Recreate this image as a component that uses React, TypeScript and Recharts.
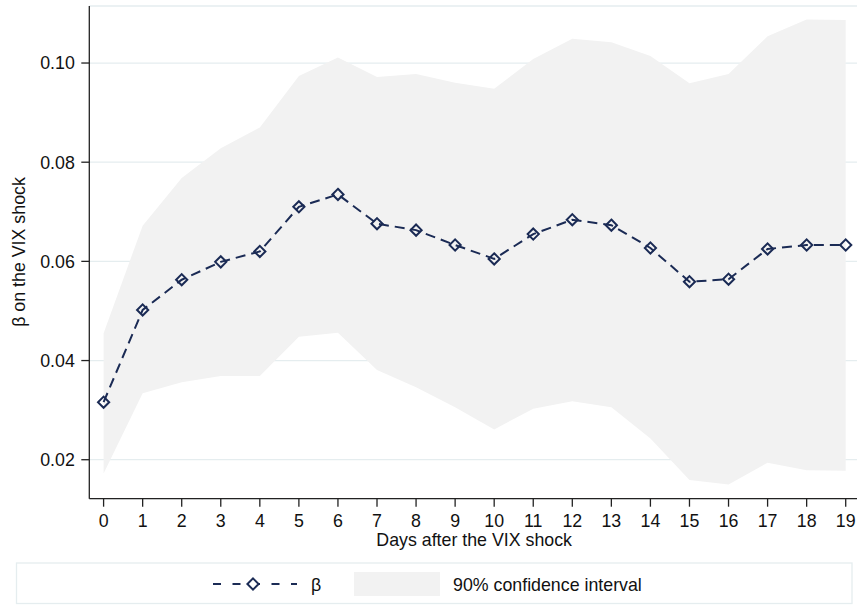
import React from 'react';
import { ComposedChart, Line, Area, XAxis, YAxis, CartesianGrid } from 'recharts';

const FONT = '"Liberation Sans", Arial, Helvetica, sans-serif';

const days = [0, 1, 2, 3, 4, 5, 6, 7, 8, 9, 10, 11, 12, 13, 14, 15, 16, 17, 18, 19];
const beta = [0.0316, 0.0502, 0.0563, 0.0599, 0.0620, 0.0710, 0.0735, 0.0676, 0.0663, 0.0633,
  0.0605, 0.0655, 0.0684, 0.0673, 0.0627, 0.0559, 0.0564, 0.0625, 0.0633, 0.0633];
const ciLow = [0.0172, 0.0334, 0.0356, 0.0369, 0.0369, 0.0448, 0.0456, 0.0381, 0.0346, 0.0306,
  0.0261, 0.0303, 0.0318, 0.0306, 0.0243, 0.0159, 0.0150, 0.0194, 0.0179, 0.0178];
const ciHigh = [0.0455, 0.0672, 0.0768, 0.0828, 0.0870, 0.0974, 0.1011, 0.0972, 0.0978, 0.0960,
  0.0948, 0.1008, 0.1049, 0.1042, 0.1014, 0.0959, 0.0978, 0.1054, 0.1088, 0.1087];
const yTicks = [0.02, 0.04, 0.06, 0.08, 0.1];

const xTitle = 'Days after the VIX shock';
const yTitle = 'β on the VIX shock';
const legendBeta = 'β';
const legendCI = '90% confidence interval';

const data = days.map((d, i) => ({ day: d, beta: beta[i], ci: [ciLow[i], ciHigh[i]] }));

const NAVY = '#1b2b55';
const BAND = '#f2f2f2';
const GRID = '#e5edef';
const TEXT = '#111';
const FS = 17.8;

const Diamond = (props: any) => {
  const { cx, cy, index } = props;
  if (cx == null || cy == null) return <g key={`d${index}`} />;
  const r = 5.6;
  return (
    <path
      key={`d${index}`}
      d={`M${cx} ${cy - r} L${cx + r} ${cy} L${cx} ${cy + r} L${cx - r} ${cy} Z`}
      fill="none"
      stroke={NAVY}
      strokeWidth={2}
      strokeDasharray="none"
    />
  );
};

export default function App() {
  return (
    <div style={{ position: 'absolute', left: 0, top: 0, width: 857, height: 605, background: '#fff', fontFamily: FONT }}>
      <ComposedChart width={857} height={605} data={data} margin={{ top: 6, right: 0, bottom: 0, left: 0 }}>
        <CartesianGrid vertical={false} stroke={GRID} strokeWidth={1.3} />
        <XAxis
          dataKey="day"
          type="number"
          domain={[-0.366, 19.289]}
          allowDataOverflow
          ticks={days}
          interval={0}
          height={106.3}
          tickSize={8}
          tickMargin={7.4}
          stroke="#222"
          strokeWidth={1.3}
          tick={{ fill: TEXT, fontSize: FS, fontFamily: FONT }}
          label={{
            content: (p: any) => {
              const vb = p.viewBox || {};
              return (
                <text x={vb.x + vb.width / 2 + 1} y={545.5} textAnchor="middle" fontSize={FS} fontFamily={FONT} fill={TEXT}>
                  {xTitle}
                </text>
              );
            },
          }}
        />
        <YAxis
          type="number"
          domain={[0.01214, 0.1115]}
          allowDataOverflow
          ticks={yTicks}
          width={89.3}
          tickSize={8}
          tickMargin={6.5}
          stroke="#222"
          strokeWidth={1.3}
          tickFormatter={(v: number) => v.toFixed(2)}
          tick={{ fill: TEXT, fontSize: FS, fontFamily: FONT }}
          label={{
            content: () => (
              <text transform="rotate(-90)" x={-252} y={24.5} textAnchor="middle" fontSize={FS} fontFamily={FONT} fill={TEXT}>
                {yTitle}
              </text>
            ),
          }}
        />
        <Area
          type="linear"
          dataKey="ci"
          stroke="none"
          fill={BAND}
          fillOpacity={1}
          isAnimationActive={false}
          activeDot={false}
        />
        <Line
          type="linear"
          dataKey="beta"
          stroke={NAVY}
          strokeWidth={2}
          strokeDasharray="10 6"
          dot={Diamond}
          activeDot={false}
          isAnimationActive={false}
        />
      </ComposedChart>
      <svg width={857} height={605} style={{ position: 'absolute', left: 0, top: 0, pointerEvents: 'none' }}>
        <rect x={16.5} y={563} width={835.5} height={40.5} fill="#fff" stroke={GRID} strokeWidth={1.3} />
        <line x1={213} y1={584} x2={297} y2={584} stroke={NAVY} strokeWidth={2} strokeDasharray="8 11.5" />
        <path d="M253 578.4 L258.6 584 L253 589.6 L247.4 584 Z" fill="#fff" stroke={NAVY} strokeWidth={2} />
        <text x={311} y={590.5} fontSize={FS} fontFamily={FONT} fill={TEXT}>{legendBeta}</text>
        <rect x={354} y={572} width={86} height={24} fill={BAND} />
        <text x={453} y={590.5} fontSize={FS} fontFamily={FONT} fill={TEXT}>{legendCI}</text>
      </svg>
    </div>
  );
}
